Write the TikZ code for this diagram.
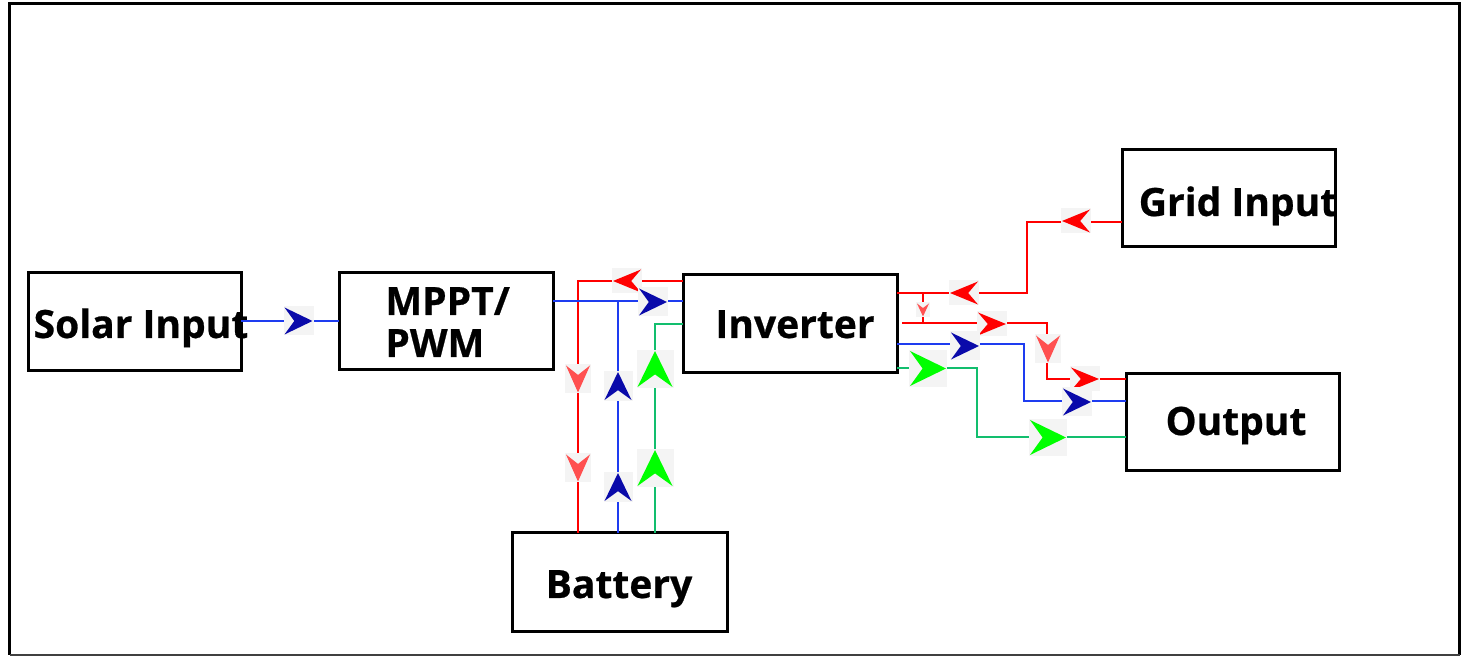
\documentclass[tikz,border=0pt]{standalone}
\usepackage{fontspec}
\setmainfont{Open Sans}[BoldFeatures={FakeBold=0.6}]
\usetikzlibrary{calc}
\definecolor{lnblue}{RGB}{30,60,240}
\definecolor{ahblue}{RGB}{10,10,170}
\definecolor{lngreen}{RGB}{18,190,110}
\definecolor{ahgreen}{RGB}{0,255,0}
\definecolor{lnred}{RGB}{255,0,0}
\definecolor{lred}{RGB}{255,80,80}
\definecolor{arrbg}{RGB}{244,244,244}
\newcommand\arrhd[6]{%
  \begin{scope}[shift={(#1,#2)},rotate=#3]
    \fill[arrbg] (-#5/2-1,-#6/2-1) rectangle (#5/2+1,#6/2+1);
    \fill[#4] (#5/2,0) -- (-#5/2,#6/2) -- (-#5/2+0.35*#5,0) -- (-#5/2,-#6/2) -- cycle;
  \end{scope}}
\begin{document}
\begin{tikzpicture}[x=0.5pt,y=-0.5pt,
  box/.style={draw=black,line width=1.5pt,inner sep=0,outer sep=0},
  lbl/.style={font=\bfseries\fontsize{19.5}{21}\selectfont,inner sep=0,anchor=base},
  wire/.style={line width=1.45pt}]
\useasboundingbox (0,0) rectangle (1463,656);
% frame
\draw[line width=1.5pt] (9.5,655) -- (9.5,3.5) -- (1459.5,3.5) -- (1459.5,655);
\draw[line width=0.6pt,black!75] (9.5,655) -- (1459.5,655);
% boxes
\node[box,minimum width=106.5pt,minimum height=49pt] (solar) at (134.5,322) {};
\node[box,minimum width=107pt,minimum height=48.5pt] (mppt) at (446,321.5) {};
\node[box,minimum width=107pt,minimum height=49pt] (inv) at (790,324) {};
\node[box,minimum width=106.5pt,minimum height=48.5pt] (grid) at (1228.5,198.5) {};
\node[box,minimum width=106.5pt,minimum height=48.5pt] (out) at (1232.5,422.5) {};
\node[box,minimum width=107.5pt,minimum height=49.5pt] (bat) at (619.5,582.5) {};
% labels
\node[lbl] (solarT) at (141,338) {Solar Input};
\node[lbl,anchor=base west,align=left] (mpptT) at (385,357) {MPPT/\\PWM};
\node[lbl] (invT) at (795,338) {Inverter};
\node[lbl] (gridT) at (1238,216) {Grid Input};
\node[lbl] (outT) at (1236,435) {Output};
\node[lbl] (batT) at (619,598) {Battery};
% wires left
\draw[wire,lnblue] (solar.east |- 0,321) -- (mppt.west |- 0,321);
\draw[wire,lnred] (inv.west |- 0,281) -- (578,281) -- (bat.north -| 578,0);
\draw[wire,lnblue] (mppt.east |- 0,301) -- (inv.west |- 0,301);
\draw[wire,lnblue] (618,301) -- (bat.north -| 618,0);
\draw[wire,lngreen] (inv.west |- 0,324) -- (655,324) -- (bat.north -| 655,0);
% wires right
\draw[wire,lnred] (grid.west |- 0,222) -- (1027,222) -- (1027,293) -- (inv.east |- 0,293);
\draw[wire,lnred] (923,293) -- (923,323);
\draw[wire,lnred] (902,323) -- (1047,323) -- (1047,379) -- (out.west |- 0,379);
\draw[wire,lnblue] (inv.east |- 0,344) -- (1024,344) -- (1024,401) -- (out.west |- 0,401);
\draw[wire,lngreen] (inv.east |- 0,368) -- (977,368) -- (977,437) -- (out.west |- 0,437);
% arrowheads
\arrhd{298.5}{321}{0}{ahblue}{28}{27}
\arrhd{627}{281}{180}{lnred}{28}{23}
\arrhd{653}{302}{0}{ahblue}{28}{27}
\arrhd{578}{379}{-90}{lred}{27}{24}
\arrhd{578}{468}{-90}{lred}{27}{24}
\arrhd{618}{386}{90}{ahblue}{28}{27}
\arrhd{618}{487}{90}{ahblue}{28}{27}
\arrhd{655}{369}{90}{ahgreen}{36}{35}
\arrhd{655}{468}{90}{ahgreen}{36}{35}
\arrhd{1076}{221}{180}{lnred}{28}{23}
\arrhd{964}{293}{180}{lnred}{28}{23}
\arrhd{923}{310}{-90}{lred}{13}{12}
\arrhd{992}{324}{0}{lnred}{28}{23}
\arrhd{1048}{349}{-90}{lred}{27}{24}
\arrhd{1085}{379}{0}{lnred}{28}{23}
\arrhd{965}{346}{0}{ahblue}{28}{27}
\arrhd{1077}{402}{0}{ahblue}{28}{27}
\arrhd{928}{368.5}{0}{ahgreen}{36}{35}
\arrhd{1048}{437.5}{0}{ahgreen}{36}{35}
\end{tikzpicture}
\end{document}
